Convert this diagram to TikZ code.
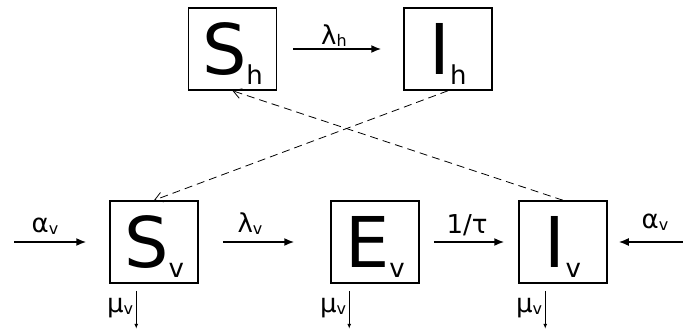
\documentclass[tikz,border=0pt]{standalone}
\usepackage{fontspec}
\setmainfont{DejaVu Sans}
\usetikzlibrary{positioning, arrows.meta, calc}

\newcommand{\compart}[2]{{\fontsize{70}{70}\selectfont #1}\raisebox{-10pt}[0pt][0pt]{\fontsize{26}{26}\selectfont #2}}
\newcommand{\ratelab}[2]{{\fontsize{26}{26}\selectfont #1}\raisebox{-2pt}{\fontsize{16}{16}\selectfont #2}}

\begin{document}
\begin{tikzpicture}[x=1pt, y=-1pt]
	% styles for boxes and arrows
	\tikzset{
		compbox/.style={
			draw, line width=1.5pt,
			minimum width=88pt, minimum height=82pt,
			inner sep=0pt
		},
		flow/.style={line width=1.6pt, -{Latex[length=10pt,width=8pt]}},
		infect/.style={
			line width=0.8pt, dash pattern=on 8pt off 5pt,
			-{Straight Barb[length=8pt,width=10pt]}
		},
		death/.style={line width=0.9pt, -{Latex[length=5pt,width=4pt]}},
		ratetxt/.style={inner sep=0pt, anchor=base}
	}
	\useasboundingbox (0,0) rectangle (683,332);
	
	% compartments (host on top, vector below)
	\foreach \nm/\L/\s/\x/\y in {Sh/S/h/232.5/49, Ih/I/h/448/49, Sv/S/v/154/242, Ev/E/v/375/242, Iv/I/v/563/242} {
		\node[compbox] (\nm) at (\x,\y) {\compart{\L}{\s}};
	}
	
	% host infection
	\draw[flow, shorten <=16pt, shorten >=22pt] (Sh) -- (Ih);
	\node[ratetxt] (lamh) at (334,44) {\ratelab{λ}{h}};
	
	% vector chain
	\coordinate (inL) at (14,242);
	\coordinate (inR) at (683,242);
	\draw[flow, shorten >=23pt] (inL) -- (Sv);
	\draw[flow, shorten <=24pt, shorten >=36pt] (Sv) -- (Ev);
	\draw[flow, shorten <=14pt, shorten >=14pt] (Ev) -- (Iv);
	\draw[flow, shorten >=11pt] (inR) -- (Iv);
	\node[ratetxt] (alphaL) at (45,232) {\ratelab{α}{v}};
	\node[ratetxt] (lamv) at (250,232) {\ratelab{λ}{v}};
	\node[ratetxt] (tau) at (467,233) {{\fontsize{26}{26}\selectfont 1/τ}};
	\node[ratetxt] (alphaR) at (655,228) {\ratelab{α}{v}};
	
	% cross infection host <-> vector
	\draw[infect] (Ih.south) -- (Sv.north);
	\draw[infect] (Iv.north) -- (Sh.south);
	
	% vector deaths
	\foreach \nm/\dx in {Sv/27, Ev/19, Iv/27} {
		\coordinate (\nm top) at ($(\nm.south west)+(\dx,7)$);
		\coordinate (\nm out) at ($(\nm.south west)+(\dx,45)$);
		\draw[death] (\nm top) -- (\nm out);
		\node[ratetxt, anchor=base east] (mu\nm) at ($(\nm.south west)+(\dx-3,29)$) {\ratelab{μ}{v}};
	}
\end{tikzpicture}
\end{document}
